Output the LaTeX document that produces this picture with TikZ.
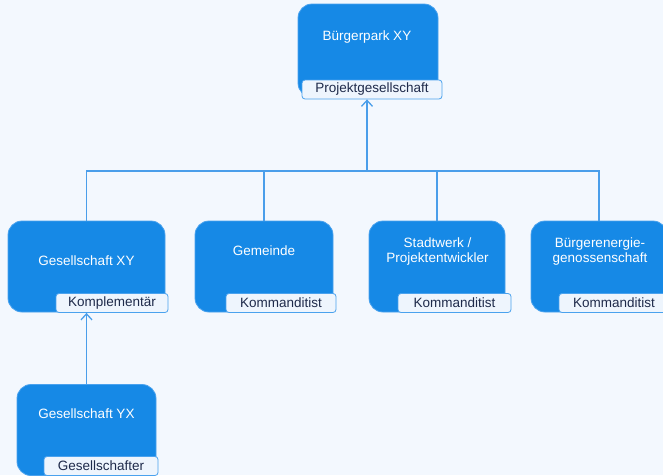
\documentclass[tikz,border=0pt]{standalone}
\usepackage{fontspec}
\setmainfont{Liberation Sans}
\usetikzlibrary{arrows.meta}
\definecolor{bgcol}{HTML}{F3F8FE}
\definecolor{boxcol}{HTML}{1689E6}
\definecolor{boxline}{HTML}{4AA2EE}
\definecolor{tagcol}{HTML}{EEF5FD}
\definecolor{tagtext}{HTML}{1E2A4A}
\definecolor{linkcol}{HTML}{4A9EEA}
\tikzset{
  orgbox/.style={draw=boxline, fill=boxcol, rounded corners=14pt, line width=0.8pt, minimum height=91pt},
  boxtext/.style={text=white, align=center, font=\fontsize{13.5}{15.5}\selectfont, inner sep=0pt},
  role/.style={draw=boxline, fill=tagcol, rounded corners=3pt, line width=0.8pt, minimum height=19pt, text=tagtext, font=\fontsize{13.5}{15}\selectfont, inner sep=0pt},
  link/.style={draw=linkcol, line width=1.1pt},
  up/.style={-{Straight Barb[length=6pt,width=11pt,line width=1.3pt]}}
}
\begin{document}
\begin{tikzpicture}[x=1pt,y=-1pt]
\useasboundingbox (0,0) rectangle (663,475);
\clip (0,0) rectangle (663,475);
\fill[bgcol] (0,0) rectangle (663,475);
\node[orgbox, minimum width=140pt, minimum height=93pt] (park) at (368,50.5) {};
\node[boxtext] (parktext) at (367,37) {Bürgerpark XY};
\node[role, minimum width=140pt] (parktag) at (372,89.5) {Projektgesellschaft};
\node[orgbox, minimum width=157pt] (gxy) at (86.5,266.5) {};
\node[boxtext] (gxytext) at (86.5,261) {Gesellschaft XY};
\node[role, minimum width=112pt] (gxytag) at (112,303) {Komplementär};
\node[orgbox, minimum width=138pt] (gem) at (264,266.5) {};
\node[boxtext] (gemtext) at (264,251) {Gemeinde};
\node[role, minimum width=110pt] (gemtag) at (281,303) {Kommanditist};
\node[orgbox, minimum width=136pt] (stw) at (437,266.5) {};
\node[boxtext] (stwtext) at (437.5,251.5) {Stadtwerk /\\Projektentwickler};
\node[role, minimum width=113pt] (stwtag) at (454.5,303) {Kommanditist};
\node[orgbox, minimum width=136pt] (bue) at (599,266.5) {};
\node[boxtext] (buetext) at (600,251.5) {Bürgerenergie-\\genossenschaft};
\node[role, minimum width=110pt] (buetag) at (614,303) {Kommanditist};
\node[orgbox, minimum width=139pt] (gyx) at (86.5,430) {};
\node[boxtext] (gyxtext) at (86.5,414) {Gesellschaft YX};
\node[role, minimum width=114pt] (gyxtag) at (101,466) {Gesellschafter};
\coordinate (hub) at (367,171);
\draw[link, up] (hub) -- (hub |- parktag.south);
\draw[link] (gxy.north) -- (gxy.north |- hub) -- (bue.north |- hub) -- (bue.north);
\draw[link] (gem.north) -- (gem.north |- hub);
\draw[link] (stw.north) -- (stw.north |- hub);
\draw[link, up] (gyx.north) -- (gyx.north |- gxytag.south);
\end{tikzpicture}
\end{document}
